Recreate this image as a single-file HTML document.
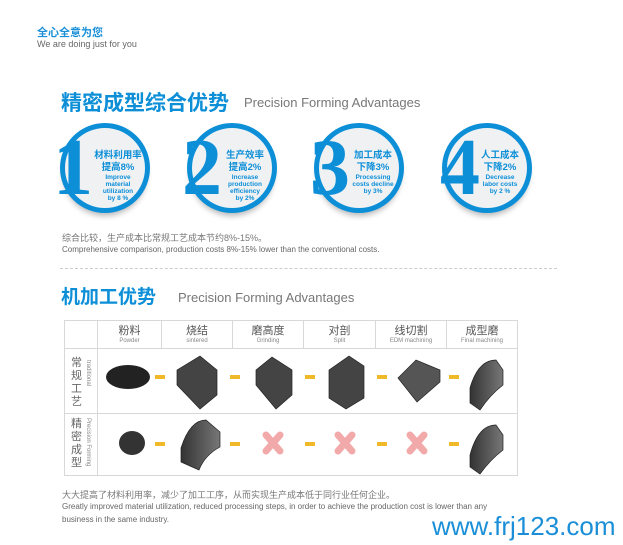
<!DOCTYPE html><html><head><meta charset="utf-8"><style>
body{margin:0;width:623px;height:545px;background:#fff;position:relative;overflow:hidden;font-family:"Liberation Sans","Noto Sans CJK SC",sans-serif}
.a{position:absolute;white-space:nowrap}
.circ{position:absolute;width:80px;height:80px;border:5px solid #0d8fd8;border-radius:50%;background:#eff1f3;box-shadow:0 6px 6px -3px #bbb}
.num{position:absolute;font-family:"Liberation Serif",serif;font-weight:bold;color:#0d8fd8;font-size:80px;line-height:80px}
.ct{position:absolute;text-align:center;color:#0d8fd8;font-weight:bold;width:56px}
.ct .c{font-size:9.5px;line-height:12px}
.ct .e{font-size:6.5px;line-height:7px}
table{position:absolute;left:64px;top:320px;border-collapse:collapse}
td{border:1px solid #d8d8d8;padding:0;text-align:center;color:#555}
.h1{font-size:11px;line-height:13px;color:#555}.h2{font-size:6px;color:#888}
</style></head><body>
<div class="a" style="left:37px;top:24px;font-size:11px;color:#1a8fd8;font-weight:bold">全心全意为您</div>
<div class="a" style="left:37px;top:39px;font-size:9px;color:#666">We are doing just for you</div>
<div class="a" style="left:61px;top:87px;font-size:21px;color:#0d8fd8;font-weight:bold">精密成型综合优势</div>
<div class="a" style="left:244px;top:95px;font-size:13px;color:#777">Precision Forming Advantages</div>

<div class="circ" style="left:60px;top:123px"></div>
<div class="num" style="left:53px;top:128px">1</div>
<div class="ct" style="left:90px;top:150px"><div class="c">材料利用率</div><div class="c">提高8%</div><div class="e">Improve<br>material<br>utilization<br>by 8 %</div></div>
<div class="circ" style="left:187px;top:123px"></div>
<div class="num" style="left:182px;top:128px">2</div>
<div class="ct" style="left:217px;top:150px"><div class="c">生产效率</div><div class="c">提高2%</div><div class="e">Increase<br>production<br>efficiency<br>by 2%</div></div>
<div class="circ" style="left:314px;top:123px"></div>
<div class="num" style="left:310px;top:128px">3</div>
<div class="ct" style="left:345px;top:150px"><div class="c">加工成本</div><div class="c">下降3%</div><div class="e">Processing<br>costs decline<br>by 3%</div></div>
<div class="circ" style="left:442px;top:123px"></div>
<div class="num" style="left:440px;top:128px">4</div>
<div class="ct" style="left:472px;top:150px"><div class="c">人工成本</div><div class="c">下降2%</div><div class="e">Decrease<br>labor costs<br>by 2 %</div></div>

<div class="a" style="left:62px;top:231px;font-size:9px;color:#777">综合比较，生产成本比常规工艺成本节约8%-15%。</div>
<div class="a" style="left:62px;top:245px;font-size:8px;color:#666">Comprehensive comparison,  production costs 8%-15% lower than the conventional  costs.</div>
<div class="a" style="left:60px;top:268px;width:497px;border-top:1px dashed #ccc"></div>
<div class="a" style="left:61px;top:282px;font-size:19px;color:#0d8fd8;font-weight:bold">机加工优势</div>
<div class="a" style="left:178px;top:290px;font-size:13px;color:#777">Precision Forming Advantages</div>

<table>
<tr style="height:28px"><td style="width:32px"></td>
<td style="width:63px"><div class="h1">粉料</div><div class="h2">Powder</div></td>
<td style="width:70px"><div class="h1">烧结</div><div class="h2">sintered</div></td>
<td style="width:70px"><div class="h1">磨高度</div><div class="h2">Grinding</div></td>
<td style="width:71px"><div class="h1">对剖</div><div class="h2">Split</div></td>
<td style="width:70px"><div class="h1">线切割</div><div class="h2">EDM machining</div></td>
<td style="width:70px"><div class="h1">成型磨</div><div class="h2">Final machining</div></td></tr>
<tr style="height:65px"><td></td><td colspan="6" style="border-left:none"></td></tr>
<tr style="height:62px"><td></td><td colspan="6"></td></tr>
</table>
<div class="a" style="left:71px;top:357px;font-size:11px;line-height:13px;color:#666;width:12px;white-space:normal">常规工艺</div>
<div class="a" style="left:85px;top:360px;font-size:6px;color:#888;writing-mode:vertical-rl">traditional</div>
<div class="a" style="left:71px;top:418px;font-size:11px;line-height:13px;color:#666;width:12px;white-space:normal">精密成型</div>
<div class="a" style="left:85px;top:418px;font-size:6px;color:#888;writing-mode:vertical-rl">Precision Forming</div>

<svg class="a" style="left:0;top:0" width="623" height="545">
<defs><linearGradient id="g" x1="0" x2="1"><stop offset="0" stop-color="#333"/><stop offset="1" stop-color="#777"/></linearGradient></defs>
<g fill="#222"><ellipse cx="128" cy="377" rx="22" ry="12"/></g>
<ellipse cx="132" cy="443" rx="13" ry="12" fill="#333"/>
<g fill="#f0b92a">
<rect x="155" y="375" width="10" height="4"/><rect x="230" y="375" width="10" height="4"/><rect x="305" y="375" width="10" height="4"/><rect x="377" y="375" width="10" height="4"/><rect x="449" y="375" width="10" height="4"/>
<rect x="155" y="442" width="10" height="4"/><rect x="230" y="442" width="10" height="4"/><rect x="305" y="442" width="10" height="4"/><rect x="377" y="442" width="10" height="4"/><rect x="449" y="442" width="10" height="4"/>
</g>
<g stroke="#222" stroke-width="0.7">
<polygon points="177,370 200,356 217,370 217,395 200,409 177,385" fill="#444"/>
<polygon points="256,370 272,357 292,370 292,395 276,409 256,385" fill="#444"/>
<polygon points="329,370 349,356 364,366 364,398 346,409 329,398" fill="#444"/>
<polygon points="398,378 416,360 440,370 440,382 417,402" fill="#555"/>
<path d="M470,388 Q478,360 496,360 L503,370 L503,385 Q490,395 480,410 L470,403Z" fill="url(#g)"/>
<path d="M181,448 Q190,420 206,420 L220,432 L220,447 Q205,455 199,470 L181,462Z" fill="url(#g)"/>
<path d="M470,455 Q478,425 496,425 L503,435 L503,450 Q490,460 480,474 L470,467Z" fill="url(#g)"/>
</g>
<g stroke="#f2a9a9" stroke-width="7" stroke-linecap="round">
<path d="M266,435 L280,451 M280,435 L266,451"/><path d="M338,435 L352,451 M352,435 L338,451"/><path d="M410,435 L424,451 M424,435 L410,451"/>
</g>
</svg>

<div class="a" style="left:62px;top:488px;font-size:9px;color:#777">大大提高了材料利用率，减少了加工工序，从而实现生产成本低于同行业任何企业。</div>
<div class="a" style="left:62px;top:502px;font-size:8px;color:#666">Greatly improved material utilization, reduced processing steps, in order to achieve the production cost is lower than any</div>
<div class="a" style="left:62px;top:515px;font-size:8px;color:#666">business in the same industry.</div>
<div class="a" style="left:432px;top:511px;font-size:26px;color:#1a8fd8">www.frj123.com</div>
</body></html>
